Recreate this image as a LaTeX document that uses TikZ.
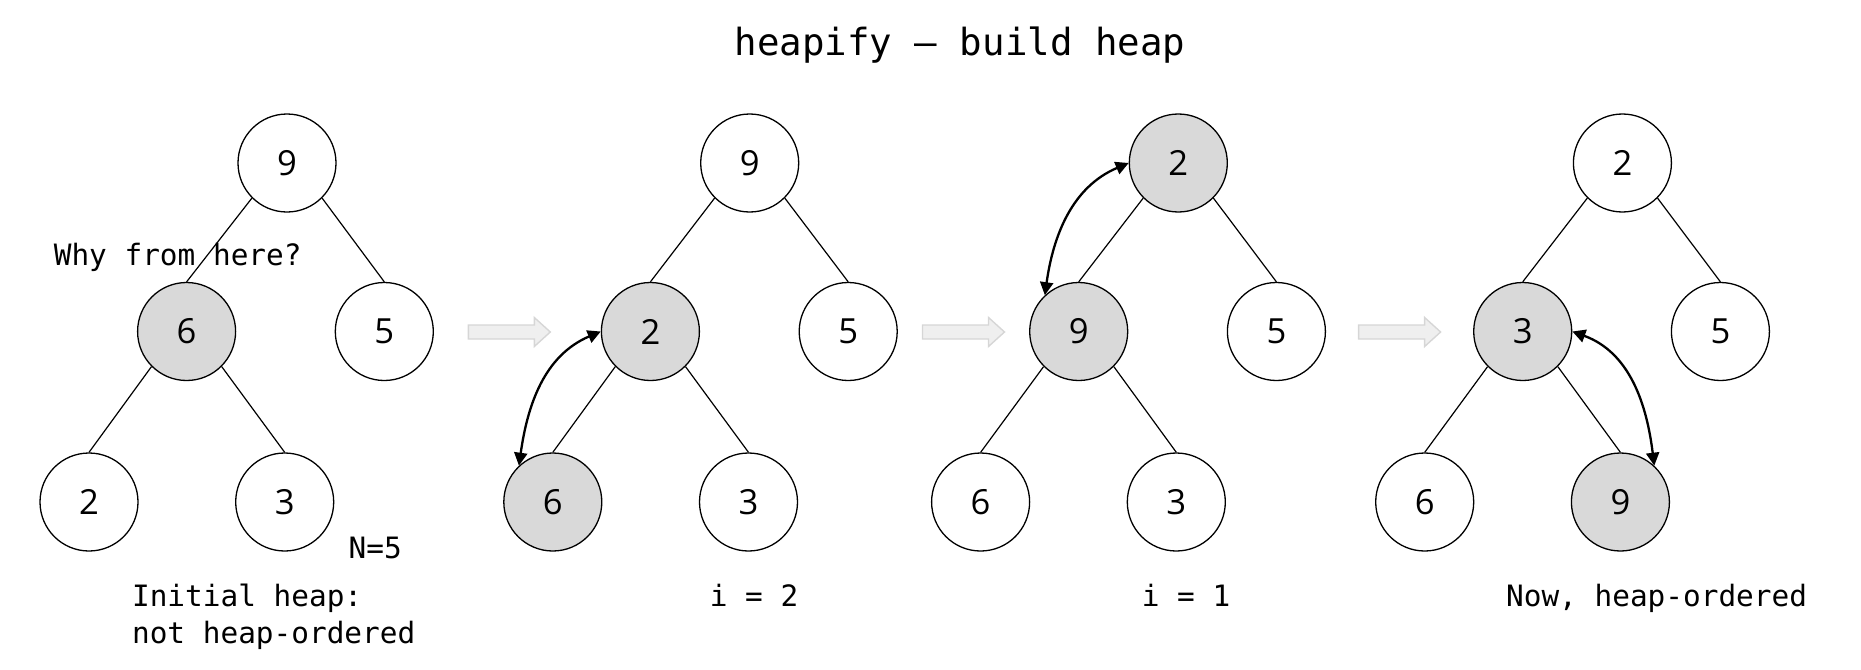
\documentclass[tikz,border=0pt]{standalone}
\usepackage{fontspec}
\setmonofont{DejaVu Sans Mono}
\newfontfamily\digitfont{Open Sans}
\usetikzlibrary{arrows.meta}
\definecolor{hl}{HTML}{D9D9D9}
\definecolor{blkfill}{HTML}{EFEFEF}
\definecolor{blkdraw}{HTML}{D6D6D6}
\tikzset{
  hnode/.style={circle,draw=black,line width=0.65pt,fill=white,minimum size=49pt,inner sep=0pt,
    font=\digitfont\fontsize{17.3}{20}\selectfont},
  hot/.style={fill=hl},
  edge/.style={line width=0.6pt,black},
  swap/.style={line width=1.15pt,black,{Triangle[length=6.5pt,width=6.5pt]}-{Triangle[length=6.5pt,width=6.5pt]}},
  blk/.style={draw=blkdraw,fill=blkfill,line width=0.7pt,line join=miter},
  lbl/.style={inner sep=0pt,font=\ttfamily\fontsize{14.7}{18.75}\selectfont},
  ttl/.style={inner sep=0pt,font=\ttfamily\fontsize{18.7}{22}\selectfont}
}
\begin{document}
\begin{tikzpicture}[x=0.5pt,y=0.5pt]
\useasboundingbox (0,0) rectangle (1861,-669);
% title
\node[ttl,anchor=base] (title) at (960,-55) {heapify – build heap};
% tree 1
\node[hnode] (a1) at (287,-163) {9};
\node[hnode,hot] (a2) at (186.6,-331.5) {6};
\node[hnode] (a3) at (384.3,-331.5) {5};
\node[hnode] (a4) at (89,-502) {2};
\node[hnode] (a5) at (284.7,-502) {3};
\draw[edge] (a1.225) -- (a2.north);
\draw[edge] (a1.315) -- (a3.north);
\draw[edge] (a2.225) -- (a4.north);
\draw[edge] (a2.315) -- (a5.north);
\node[lbl,anchor=base west] (why) at (53.4,-265.4) {Why from here?};
\node[lbl,anchor=base west] (nn) at (348.3,-558.3) {N=5};
\node[lbl,anchor=base west] (init1) at (131.7,-606) {Initial heap:};
\node[lbl,anchor=base west] (init2) at (131.7,-643.5) {not heap-ordered};
% block arrows
\coordinate (ar1) at (468.3,-332);
\coordinate (ar2) at (922.5,-332);
\coordinate (ar3) at (1358.6,-332);
\foreach \a in {ar1,ar2,ar3}{
  \draw[blk,shift={(\a)}] (0,7) -- (66,7) -- (66,14.5) -- (82,0) -- (66,-14.5) -- (66,-7) -- (0,-7) -- cycle;
}
% tree 2
\node[hnode] (b1) at (749.7,-163) {9};
\node[hnode,hot] (b2) at (650.4,-331.5) {2};
\node[hnode] (b3) at (848.2,-331.5) {5};
\node[hnode,hot] (b4) at (552.8,-502) {6};
\node[hnode] (b5) at (748.5,-502) {3};
\draw[edge] (b1.225) -- (b2.north);
\draw[edge] (b1.315) -- (b3.north);
\draw[edge] (b2.225) -- (b4.north);
\draw[edge] (b2.315) -- (b5.north);
\draw[swap] (b2.west) to[out=203,in=82] (b4.133);
\node[lbl,anchor=base] (i2) at (754,-606) {i = 2};
% tree 3
\node[hnode,hot] (c1) at (1178.3,-163) {2};
\node[hnode,hot] (c2) at (1078.7,-331.5) {9};
\node[hnode] (c3) at (1276.4,-331.5) {5};
\node[hnode] (c4) at (980.6,-502) {6};
\node[hnode] (c5) at (1176.3,-502) {3};
\draw[edge] (c1.225) -- (c2.north);
\draw[edge] (c1.315) -- (c3.north);
\draw[edge] (c2.225) -- (c4.north);
\draw[edge] (c2.315) -- (c5.north);
\draw[swap] (c1.west) to[out=203,in=82] (c2.133);
\node[lbl,anchor=base] (i1) at (1186,-606) {i = 1};
% tree 4
\node[hnode] (d1) at (1622.4,-163) {2};
\node[hnode,hot] (d2) at (1522.7,-331.5) {3};
\node[hnode] (d3) at (1720.4,-331.5) {5};
\node[hnode] (d4) at (1424.7,-502) {6};
\node[hnode,hot] (d5) at (1620.4,-502) {9};
\draw[edge] (d1.225) -- (d2.north);
\draw[edge] (d1.315) -- (d3.north);
\draw[edge] (d2.225) -- (d4.north);
\draw[edge] (d2.315) -- (d5.north);
\draw[swap] (d2.east) to[out=-20,in=97] (d5.47);
\node[lbl,anchor=base west] (now) at (1505.7,-606) {Now, heap-ordered};
\end{tikzpicture}
\end{document}
